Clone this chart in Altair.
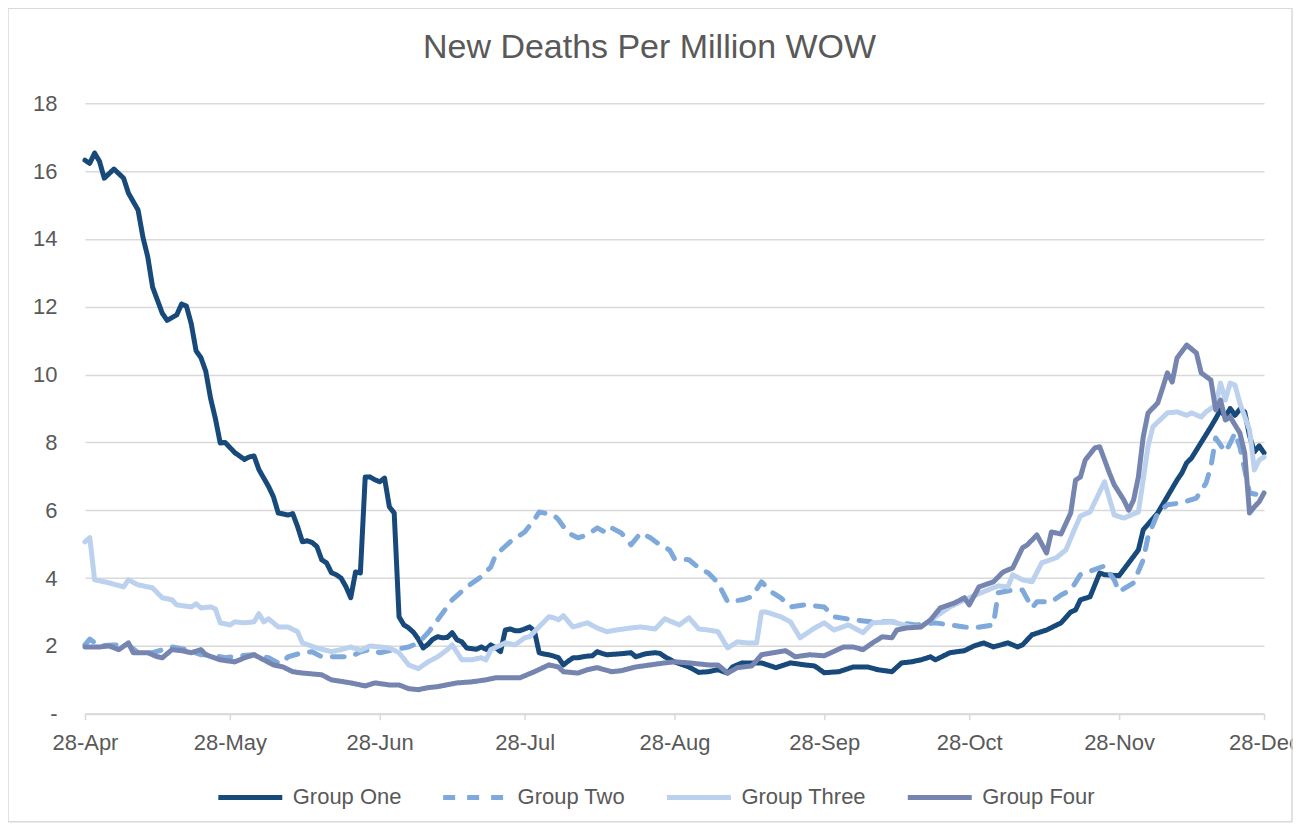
import altair as alt
import pandas as pd

TITLE = "New Deaths Per Million WOW"
SERIES = ["Group One", "Group Two", "Group Three", "Group Four"]
COLORS = ["#17497A", "#7EA9DA", "#BCD1EE", "#7585AF"]
START = "2020-04-28"
TICK_MONTHS = [4, 5, 6, 7, 8, 9, 10, 11, 12]

# days since 28-Apr and values (new deaths per million, week over week)
G1_DAY = [0, 1, 2, 3, 4, 6, 8, 9, 11, 12, 13, 14, 16, 17, 19, 20, 21, 22, 23, 24, 25, 26, 27, 28, 29, 30, 31, 33,
          34, 35, 36, 37, 38, 39, 40, 42, 43, 44, 45, 46, 47, 48, 49, 50, 51, 52, 53, 54, 55, 56, 57, 58, 59, 60,
          61, 62, 63, 64, 65, 66, 67, 68, 69, 70, 71, 72, 73, 74, 75, 76, 77, 78, 79, 80, 81, 82, 83, 84, 85, 86,
          87, 88, 89, 90, 91, 92, 93, 94, 95, 96, 97, 98, 99, 100, 101, 102, 103, 104, 105, 106, 107, 108, 110,
          111, 113, 114, 116, 118, 119, 120, 122, 125, 127, 129, 131, 133, 134, 136, 138, 140, 143, 146, 149, 151,
          153, 156, 159, 162, 164, 167, 169, 171, 173, 175, 176, 179, 182, 184, 186, 188, 191, 193, 194, 196, 199,
          202, 204, 205, 206, 208, 210, 211, 214, 218, 219, 222, 226, 227, 228, 229, 233, 234, 235, 236, 237, 238,
          239, 240, 241, 242, 243, 244]
G1_VAL = [16.32, 16.23, 16.53, 16.29, 15.79, 16.06, 15.79, 15.35, 14.85, 14.05, 13.47, 12.58, 11.81, 11.6, 11.76,
          12.08, 12.02, 11.5, 10.7, 10.5, 10.1, 9.3, 8.7, 7.98, 8.0, 7.85, 7.7, 7.5, 7.57, 7.6, 7.2, 6.95, 6.7,
          6.4, 5.92, 5.86, 5.9, 5.52, 5.07, 5.1, 5.05, 4.93, 4.54, 4.45, 4.16, 4.1, 4.0, 3.75, 3.42, 4.18, 4.15,
          6.98, 6.98, 6.9, 6.84, 6.95, 6.1, 5.92, 2.86, 2.62, 2.53, 2.4, 2.2, 1.94, 2.05, 2.2, 2.27, 2.24, 2.25,
          2.39, 2.18, 2.12, 1.94, 1.92, 1.9, 1.97, 1.9, 2.03, 1.95, 1.83, 2.47, 2.5, 2.45, 2.45, 2.5, 2.56, 2.45,
          1.8, 1.76, 1.74, 1.7, 1.65, 1.44, 1.55, 1.65, 1.65, 1.68, 1.7, 1.71, 1.83, 1.78, 1.74, 1.76, 1.77, 1.8,
          1.68, 1.77, 1.8, 1.78, 1.68, 1.53, 1.38, 1.22, 1.24, 1.3, 1.2, 1.38, 1.5, 1.5, 1.5, 1.36, 1.5, 1.44,
          1.41, 1.21, 1.24, 1.38, 1.38, 1.3, 1.24, 1.5, 1.53, 1.59, 1.68, 1.59, 1.8, 1.86, 2.0, 2.09, 1.97, 2.09,
          1.97, 2.03, 2.33, 2.47, 2.68, 3.0, 3.06, 3.36, 3.45, 4.15, 4.1, 4.07, 4.83, 5.42, 5.92, 6.89, 7.1, 7.4,
          7.54, 8.46, 8.7, 8.96, 8.75, 9.0, 8.8, 8.98, 8.9, 8.2, 7.72, 7.9, 7.69]

G2_DAY = [0, 1, 3, 6, 9, 11, 14, 18, 21, 24, 26, 29, 32, 35, 38, 40, 41, 42, 45, 47, 49, 52, 55, 57, 59, 61, 64,
          67, 69, 71, 73, 76, 79, 82, 84, 85, 88, 91, 93, 94, 97, 98, 100, 102, 104, 106, 108, 109, 111, 113, 115,
          117, 119, 121, 122, 125, 127, 129, 131, 133, 136, 138, 140, 142, 144, 146, 149, 153, 155, 159, 163, 167,
          172, 176, 179, 182, 184, 188, 189, 192, 194, 196, 197, 200, 202, 204, 206, 211, 213, 214, 217, 219, 220,
          222, 224, 227, 230, 232, 233, 234, 236, 237, 238, 239, 241, 243, 244]
G2_VAL = [2.03, 2.2, 2.0, 2.03, 2.03, 1.8, 1.8, 1.97, 1.89, 1.74, 1.74, 1.65, 1.71, 1.74, 1.65, 1.5, 1.5, 1.68,
          1.8, 1.83, 1.68, 1.68, 1.68, 1.83, 1.89, 1.8, 1.89, 1.97, 2.09, 2.39, 2.77, 3.36, 3.74, 4.04, 4.33, 4.68,
          5.07, 5.36, 5.72, 5.95, 5.86, 5.72, 5.33, 5.19, 5.27, 5.48, 5.33, 5.48, 5.33, 4.98, 5.33, 5.19, 4.98,
          4.83, 4.57, 4.54, 4.3, 4.15, 3.86, 3.3, 3.36, 3.45, 3.89, 3.6, 3.42, 3.15, 3.21, 3.15, 2.86, 2.77, 2.71,
          2.71, 2.62, 2.68, 2.62, 2.56, 2.53, 2.62, 3.57, 3.65, 3.65, 3.12, 3.3, 3.3, 3.5, 3.65, 4.1, 4.36, 3.95,
          3.6, 3.86, 4.54, 5.22, 5.92, 6.16, 6.22, 6.36, 6.8, 7.28, 8.13, 7.72, 7.98, 8.28, 7.87, 6.51, 6.45, 6.51]

G3_DAY = [0, 1, 2, 5, 8, 9, 11, 14, 16, 18, 19, 22, 23, 24, 26, 27, 28, 30, 31, 33, 35, 36, 37, 38, 40, 42, 44, 45,
          48, 51, 53, 55, 57, 59, 63, 65, 67, 69, 71, 73, 75, 76, 78, 80, 82, 83, 84, 87, 89, 91, 92, 93, 96, 97,
          98, 99, 101, 104, 106, 108, 110, 113, 115, 118, 120, 123, 125, 127, 129, 131, 133, 135, 137, 139, 140,
          141, 144, 146, 148, 151, 153, 155, 158, 161, 163, 167, 171, 173, 176, 179, 183, 186, 189, 191, 192, 194,
          196, 198, 201, 203, 205, 206, 208, 211, 213, 215, 218, 219, 220, 221, 222, 224, 226, 228, 229, 231, 232,
          234, 235, 236, 237, 238, 239, 241, 242, 243, 244]
G3_VAL = [5.07, 5.19, 3.95, 3.86, 3.74, 3.95, 3.8, 3.71, 3.42, 3.36, 3.21, 3.15, 3.24, 3.12, 3.15, 3.09, 2.68, 2.62,
          2.71, 2.68, 2.71, 2.95, 2.71, 2.8, 2.56, 2.56, 2.42, 2.09, 1.94, 1.83, 1.89, 1.97, 1.87, 2.0, 1.94, 1.8,
          1.44, 1.33, 1.53, 1.68, 1.89, 2.03, 1.59, 1.59, 1.65, 1.59, 1.89, 2.09, 2.03, 2.24, 2.27, 2.42, 2.86,
          2.83, 2.77, 2.89, 2.56, 2.68, 2.53, 2.42, 2.47, 2.53, 2.56, 2.5, 2.8, 2.62, 2.83, 2.5, 2.47, 2.42, 1.94,
          2.12, 2.09, 2.09, 3.0, 3.0, 2.86, 2.71, 2.24, 2.53, 2.68, 2.47, 2.62, 2.39, 2.68, 2.71, 2.56, 2.56, 2.86,
          3.15, 3.42, 3.6, 3.77, 3.74, 4.1, 3.95, 3.89, 4.45, 4.6, 4.83, 5.51, 5.83, 5.95, 6.84, 5.86, 5.77, 5.95,
          6.9, 7.9, 8.46, 8.6, 8.87, 8.9, 8.8, 8.87, 8.75, 8.9, 9.1, 9.75, 9.25, 9.75, 9.69, 9.16, 8.37, 7.19, 7.48,
          7.57]

G4_DAY = [0, 3, 5, 7, 9, 10, 13, 15, 16, 18, 20, 22, 24, 25, 28, 31, 33, 35, 37, 39, 41, 43, 45, 49, 51, 55, 58,
          60, 63, 65, 67, 69, 71, 73, 77, 80, 83, 85, 88, 90, 93, 96, 98, 99, 102, 104, 106, 109, 111, 114, 117,
          120, 122, 125, 129, 131, 133, 135, 138, 140, 145, 147, 150, 153, 157, 159, 161, 163, 165, 167, 168, 170,
          173, 175, 177, 180, 182, 183, 185, 188, 190, 192, 194, 195, 197, 199, 200, 202, 204, 205, 206, 207, 209,
          210, 212, 213, 215, 216, 217, 218, 219, 220, 222, 223, 224, 225, 226, 228, 230, 231, 233, 234, 235, 236,
          237, 239, 240, 241, 242, 243, 244]
G4_VAL = [1.97, 1.97, 2.0, 1.89, 2.09, 1.8, 1.8, 1.68, 1.65, 1.89, 1.86, 1.8, 1.89, 1.74, 1.59, 1.53, 1.65, 1.74,
          1.59, 1.44, 1.38, 1.24, 1.2, 1.15, 1.0, 0.91, 0.82, 0.91, 0.85, 0.85, 0.74, 0.71, 0.77, 0.8, 0.91, 0.94,
          1.0, 1.06, 1.06, 1.06, 1.24, 1.44, 1.38, 1.24, 1.2, 1.3, 1.36, 1.24, 1.27, 1.38, 1.44, 1.5, 1.53, 1.5,
          1.44, 1.44, 1.2, 1.36, 1.41, 1.74, 1.86, 1.68, 1.74, 1.71, 1.97, 1.97, 1.89, 2.09, 2.27, 2.24, 2.47, 2.53,
          2.56, 2.77, 3.12, 3.27, 3.42, 3.21, 3.74, 3.89, 4.18, 4.3, 4.89, 4.98, 5.27, 4.74, 5.36, 5.3, 5.92, 6.89,
          6.98, 7.48, 7.84, 7.87, 7.1, 6.75, 6.3, 6.0, 6.3, 6.98, 8.16, 8.87, 9.16, 9.6, 10.05, 9.78, 10.49, 10.87,
          10.64, 10.05, 9.84, 8.96, 9.25, 8.66, 8.75, 8.28, 7.69, 5.92, 6.1, 6.25, 6.51]

base = pd.Timestamp(START)
rows = []
for name, days, vals in zip(SERIES, [G1_DAY, G2_DAY, G3_DAY, G4_DAY], [G1_VAL, G2_VAL, G3_VAL, G4_VAL]):
    for d, v in zip(days, vals):
        rows.append({"series": name,
                     "date": (base + pd.Timedelta(days=d)).strftime("%Y-%m-%d"),
                     "value": v})
df = pd.DataFrame(rows)

FONT = "Liberation Sans"
GREY = "#595959"
LIGHT = "#D9D9D9"

tick_values = [alt.DateTime(year=2020, month=m, date=28, utc=True) for m in TICK_MONTHS]

lines = alt.Chart(df).mark_line(strokeWidth=5, strokeCap="round", strokeJoin="round").encode(
    x=alt.X("date:T",
            scale=alt.Scale(type="utc", nice=False,
                            domain=[alt.DateTime(year=2020, month=4, date=28, utc=True),
                                    alt.DateTime(year=2020, month=12, date=28, utc=True)]),
            axis=alt.Axis(title=None, values=tick_values, format="%d-%b", grid=False,
                          domainColor=LIGHT, domainWidth=2, tickColor=LIGHT, tickSize=6, tickWidth=1.5,
                          labelFontSize=22, labelColor=GREY, labelFont=FONT, labelPadding=13,
                          labelOverlap=False, labelFlush=False, labelBound=False)),
    y=alt.Y("value:Q",
            scale=alt.Scale(domain=[0, 18], nice=False),
            axis=alt.Axis(title=None, values=list(range(0, 19, 2)), domain=False, ticks=False,
                          labelFontSize=22, labelColor=GREY, labelFont=FONT, labelPadding=28,
                          gridColor=LIGHT, gridWidth=1.5,
                          labelExpr="datum.value == 0 ? '-\u00a0\u00a0' : datum.label")),
    color=alt.Color("series:N", scale=alt.Scale(domain=SERIES, range=COLORS),
                    legend=alt.Legend(title=None)),
    strokeDash=alt.StrokeDash("series:N",
                              scale=alt.Scale(domain=SERIES, range=[[1, 0], [12, 12], [1, 0], [1, 0]]),
                              legend=alt.Legend(title=None)),
)

frame = alt.Chart(alt.Data(values=[{"k": 1}])).mark_rect(
    fill=None, stroke=LIGHT, strokeWidth=1.5
).encode(x=alt.value(-77), x2=alt.value(1208), y=alt.value(-95), y2=alt.value(719))

chart = alt.layer(frame, lines).properties(
    width=1180, height=611,
    autosize=alt.AutoSizeParams(type="none"),
    padding={"left": 77, "top": 95, "right": 29, "bottom": 110},
    title=alt.TitleParams(TITLE, fontSize=34, color=GREY, font=FONT, fontWeight="normal",
                          anchor="middle", frame="group", baseline="alphabetic", offset=-84, dx=-25),
).configure_view(stroke=None).configure_legend(
    orient="none", legendX=131, legendY=660, direction="horizontal",
    symbolType="stroke", symbolSize=4096, symbolStrokeWidth=5,
    labelFontSize=22, labelColor=GREY, labelFont=FONT, labelOffset=8,
    columnPadding=31, padding=0,
)

chart.save("out.html", embed_options={"renderer": "svg", "actions": False})
